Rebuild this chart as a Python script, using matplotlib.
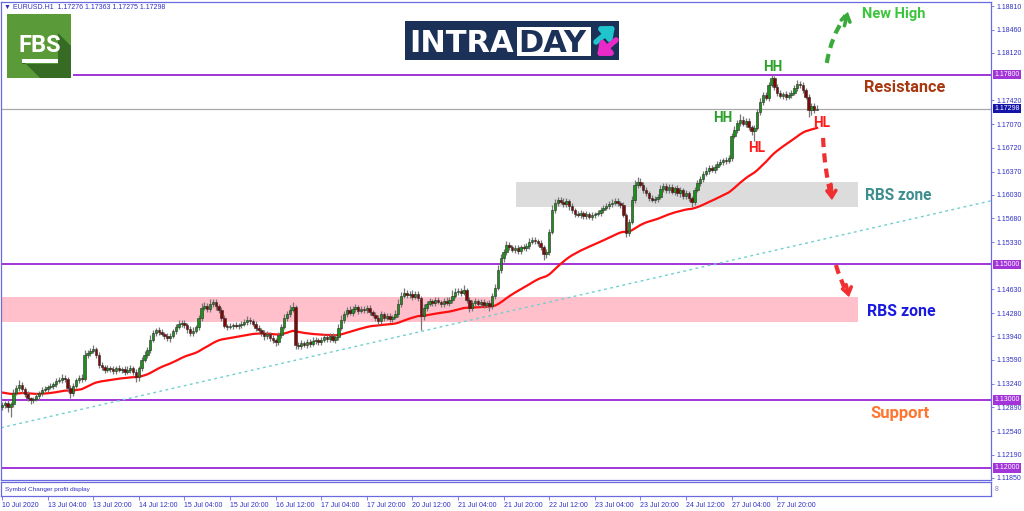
import numpy as np
import pandas as pd
import matplotlib
matplotlib.use("Agg")
import matplotlib.pyplot as plt
from matplotlib.patches import Rectangle, FancyArrowPatch, Polygon
from matplotlib.transforms import blended_transform_factory

# ---------------- data (EURUSD H1) ----------------
CLOSES = [
    1.12926, 1.12956, 1.12897, 1.12941, 1.13103, 1.13177, 1.13221, 1.13162, 1.13089, 1.13030, 1.13000, 1.13015, 1.13059, 1.13103, 1.13147, 1.13162,
    1.13192, 1.13207, 1.13236, 1.13280, 1.13295, 1.13325, 1.13310, 1.13177, 1.13103, 1.13207, 1.13295, 1.13325, 1.13310, 1.13664, 1.13693, 1.13723,
    1.13752, 1.13664, 1.13516, 1.13487, 1.13443, 1.13472, 1.13457, 1.13428, 1.13472, 1.13443, 1.13457, 1.13413, 1.13443, 1.13472, 1.13413, 1.13339,
    1.13472, 1.13590, 1.13664, 1.13738, 1.13885, 1.13988, 1.14033, 1.14003, 1.13974, 1.13944, 1.13915, 1.13944, 1.14018, 1.14077, 1.14121, 1.14136,
    1.14106, 1.14047, 1.13988, 1.14018, 1.14077, 1.14210, 1.14357, 1.14387, 1.14343, 1.14416, 1.14446, 1.14387, 1.14328, 1.14210, 1.14092, 1.14077,
    1.14092, 1.14106, 1.14092, 1.14106, 1.14121, 1.14151, 1.14180, 1.14165, 1.14121, 1.14062, 1.14033, 1.13988, 1.13944, 1.13974, 1.13915, 1.13885,
    1.13856, 1.13959, 1.14077, 1.14210, 1.14269, 1.14328, 1.14372, 1.13811, 1.13797, 1.13841, 1.13811, 1.13856, 1.13826, 1.13870, 1.13885, 1.13856,
    1.13885, 1.13929, 1.13900, 1.13944, 1.13885, 1.13929, 1.14062, 1.14180, 1.14269, 1.14328, 1.14284, 1.14343, 1.14372, 1.14313, 1.14343, 1.14328,
    1.14357, 1.14298, 1.14254, 1.14210, 1.14165, 1.14269, 1.14210, 1.14239, 1.14195, 1.14225, 1.14269, 1.14416, 1.14534, 1.14578, 1.14549, 1.14564,
    1.14519, 1.14564, 1.14505, 1.14239, 1.14357, 1.14416, 1.14461, 1.14431, 1.14475, 1.14446, 1.14416, 1.14461, 1.14431, 1.14475, 1.14534, 1.14593,
    1.14608, 1.14578, 1.14623, 1.14475, 1.14357, 1.14431, 1.14461, 1.14416, 1.14446, 1.14401, 1.14431, 1.14387, 1.14534, 1.14652, 1.14918, 1.15095,
    1.15183, 1.15286, 1.15257, 1.15212, 1.15242, 1.15198, 1.15257, 1.15242, 1.15271, 1.15330, 1.15360, 1.15345, 1.15315, 1.15257, 1.15154, 1.15183,
    1.15478, 1.15802, 1.15906, 1.15950, 1.15920, 1.15891, 1.15935, 1.15861, 1.15802, 1.15743, 1.15728, 1.15758, 1.15713, 1.15743, 1.15699, 1.15728,
    1.15743, 1.15758, 1.15802, 1.15832, 1.15861, 1.15891, 1.15906, 1.15935, 1.15906, 1.15876, 1.15728, 1.15463, 1.15625, 1.15950, 1.16171, 1.16215,
    1.16171, 1.16098, 1.16054, 1.15980, 1.15950, 1.15965, 1.15994, 1.16112, 1.16157, 1.16098, 1.16142, 1.16068, 1.16127, 1.16054, 1.16098, 1.16009,
    1.16054, 1.15980, 1.15920, 1.16098, 1.16201, 1.16260, 1.16334, 1.16378, 1.16422, 1.16393, 1.16437, 1.16481, 1.16511, 1.16540, 1.16525, 1.16570,
    1.16894, 1.16983, 1.17086, 1.17130, 1.17071, 1.17115, 1.17027, 1.16968, 1.17012, 1.17248, 1.17396, 1.17499, 1.17455, 1.17647, 1.17750, 1.17617,
    1.17529, 1.17485, 1.17514, 1.17470, 1.17499, 1.17529, 1.17603, 1.17662, 1.17647, 1.17573, 1.17470, 1.17278, 1.17337, 1.17276, 1.17298,
]
FIRST_OPEN = 1.12900
# wick lengths in pips above max(open, close) / below min(open, close)
UP_WICK = [
    4, 3, 5, 3, 6, 5, 7, 4, 3, 4, 2, 3, 4, 3, 5, 4,
    3, 4, 3, 5, 4, 6, 5, 3, 4, 5, 3, 4, 6, 8, 5, 4,
    6, 3, 5, 4, 3, 4, 3, 5, 3, 4, 3, 5, 6, 4, 3, 5,
    3, 4, 6, 5, 7, 4, 3, 5, 4, 3, 5, 4, 3, 5, 6, 4,
    5, 3, 4, 6, 3, 5, 7, 6, 4, 8, 5, 4, 3, 5, 4, 3,
    4, 3, 5, 3, 4, 5, 6, 4, 3, 5, 4, 3, 4, 5, 3, 4,
    3, 5, 4, 6, 5, 7, 8, 3, 4, 5, 3, 4, 5, 6, 4, 3,
    4, 5, 3, 4, 5, 3, 6, 7, 5, 4, 6, 5, 4, 3, 5, 4,
    5, 4, 3, 4, 5, 4, 3, 5, 4, 3, 6, 8, 6, 7, 5, 4,
    6, 5, 4, 3, 6, 4, 5, 3, 4, 5, 3, 4, 6, 5, 9, 6,
    5, 4, 7, 3, 4, 5, 4, 3, 5, 4, 3, 4, 5, 6, 7, 6,
    5, 6, 4, 3, 5, 4, 3, 5, 4, 6, 5, 4, 3, 4, 3, 5,
    4, 7, 6, 5, 4, 6, 5, 3, 4, 3, 5, 4, 3, 4, 3, 4,
    3, 4, 5, 4, 5, 4, 6, 5, 4, 3, 4, 3, 5, 6, 8, 7,
    6, 5, 4, 3, 4, 5, 4, 6, 5, 4, 5, 4, 3, 5, 4, 3,
    4, 3, 3, 5, 4, 5, 4, 6, 4, 5, 4, 5, 4, 3, 5, 4,
    5, 6, 5, 9, 6, 5, 4, 3, 4, 5, 6, 4, 5, 4, 4, 3,
    4, 5, 3, 4, 5, 4, 5, 6, 5, 4, 3, 4, 5, 4, 6,
]
LOW_WICK = [
    5, 4, 8, 15, 4, 3, 5, 6, 4, 5, 6, 4, 3, 5, 4, 3,
    4, 3, 5, 4, 3, 4, 5, 6, 7, 4, 3, 5, 4, 3, 4, 5,
    3, 4, 5, 4, 5, 3, 4, 5, 4, 3, 5, 4, 3, 4, 5, 8,
    6, 4, 3, 5, 4, 3, 5, 4, 3, 5, 4, 6, 3, 4, 3, 5,
    4, 6, 5, 4, 3, 4, 5, 3, 4, 5, 4, 6, 5, 4, 3, 4,
    3, 4, 3, 5, 4, 3, 4, 5, 3, 4, 5, 4, 6, 4, 5, 4,
    6, 5, 4, 3, 5, 4, 3, 6, 5, 4, 3, 5, 4, 3, 4, 5,
    4, 3, 5, 4, 3, 5, 4, 3, 5, 4, 3, 4, 5, 4, 3, 5,
    4, 5, 3, 4, 6, 5, 4, 3, 5, 4, 3, 4, 5, 3, 4, 5,
    4, 3, 5, 20, 6, 4, 3, 5, 4, 3, 5, 4, 3, 4, 5, 3,
    4, 5, 3, 4, 6, 5, 4, 3, 5, 4, 3, 7, 4, 5, 3, 4,
    6, 4, 5, 3, 4, 5, 4, 3, 5, 4, 3, 5, 4, 5, 9, 6,
    4, 3, 5, 4, 3, 5, 4, 6, 4, 5, 3, 4, 5, 4, 3, 5,
    4, 3, 5, 4, 3, 4, 5, 3, 4, 5, 3, 6, 4, 3, 5, 4,
    3, 4, 5, 4, 3, 4, 5, 3, 4, 5, 4, 3, 5, 4, 6, 5,
    4, 5, 8, 4, 3, 4, 5, 3, 4, 3, 5, 4, 3, 5, 4, 3,
    4, 3, 5, 4, 3, 4, 5, 6, 15, 3, 4, 5, 3, 4, 3, 5,
    4, 3, 5, 4, 3, 4, 3, 4, 5, 4, 3, 10, 8, 4, 0,
]
MA_SEED = 1.13118      # moving-average value at the first bar
MA_SPAN = 50

X_LABELS = ["10 Jul 2020", "13 Jul 04:00", "13 Jul 20:00", "14 Jul 12:00", "15 Jul 04:00",
            "15 Jul 20:00", "16 Jul 12:00", "17 Jul 04:00", "17 Jul 20:00", "20 Jul 12:00",
            "21 Jul 04:00", "21 Jul 20:00", "22 Jul 12:00", "23 Jul 04:00", "23 Jul 20:00",
            "24 Jul 12:00", "27 Jul 04:00", "27 Jul 20:00"]
BARS_PER_LABEL = 16
Y_TICKS = [1.18810, 1.18460, 1.18120, 1.17420, 1.17070, 1.16720, 1.16370, 1.16030,
           1.15680, 1.15330, 1.14630, 1.14280, 1.13940, 1.13590, 1.13240, 1.12890,
           1.12540, 1.12190, 1.11850]
RESISTANCE = 1.17800
LEVEL_1500 = 1.15000
SUPPORT = 1.13000
LEVEL_1200 = 1.12000
LAST_PRICE = 1.17298
HEADER = "\u25bc EURUSD.H1  1.17276 1.17363 1.17275 1.17298"
RESIST_START_BAR = 25
RBS_GRAY = (180.4, 300.4, 1.15848, 1.16220)   # bar from, bar to, low, high
RBS_PINK = (-0.1, 300.4, 1.14146, 1.14524)
TREND_A = (0, 1.12594)
TREND_B = (286, 1.15350)
Y_RANGE = (1.11820, 1.18870)

# ---------------- figure ----------------
plt.rcParams["font.family"] = ["Liberation Sans", "DejaVu Sans"]
W, H = 1024, 511
fig = plt.figure(figsize=(W / 100, H / 100), dpi=100)
fig.patch.set_facecolor("white")

FRAME = "#6a6ae0"
AXTXT = "#2f2fc4"
PURPLE = "#a234d8"


def fa(l, t, r, b):
    return [l / W, 1 - b / H, (r - l) / W, (b - t) / H]


ax = fig.add_axes(fa(1, 2, 991, 480))
sub = fig.add_axes(fa(1, 482, 991, 496))

c = np.array(CLOSES)
n = len(c)
o = np.r_[FIRST_OPEN, c[:-1]]
hi = np.maximum(o, c) + np.array(UP_WICK) * 1e-4
lo = np.minimum(o, c) - np.array(LOW_WICK) * 1e-4
idx = np.arange(n)

px_per_bar = 2.85
x0 = -1 / px_per_bar
x1 = 989 / px_per_bar
ax.set_xlim(x0, x1)
ax.set_ylim(*Y_RANGE)

# zones
for (xa, xb, ya, yb), col in [(RBS_GRAY, "#dcdcdc"), (RBS_PINK, "#ffc0cb")]:
    ax.add_patch(Rectangle((xa, ya), xb - xa, yb - ya, facecolor=col, edgecolor="none", zorder=0.5))

# horizontal levels
for lvl in [LEVEL_1500, SUPPORT, LEVEL_1200]:
    ax.axhline(lvl, color=PURPLE, lw=1.4, zorder=1)
ax.hlines(RESISTANCE, RESIST_START_BAR, x1, color=PURPLE, lw=1.4, zorder=1)
ax.axhline(LAST_PRICE, color="#a8a8a8", lw=0.9, zorder=1)

# trend line
ax.axline(TREND_A, TREND_B, color="#6fcfcf", lw=1.0, ls=(0, (2, 2.5)), zorder=1.2)

# moving average
ma = pd.Series(np.r_[MA_SEED, c]).ewm(span=MA_SPAN, adjust=False).mean().values[1:]
ax.plot(idx, ma, color="#ff1010", lw=1.6, zorder=2)

# candles
ax.vlines(idx, lo, hi, color="#777777", lw=0.9, zorder=3)
bull = c >= o
body = np.maximum(np.abs(c - o), 0.00003)
ax.bar(idx[bull], body[bull], bottom=o[bull], width=0.85, color="#189318",
       edgecolor="#2a2a2a", linewidth=0.4, zorder=4)
ax.bar(idx[~bull], body[~bull], bottom=c[~bull], width=0.85, color="#820707",
       edgecolor="#2a2a2a", linewidth=0.4, zorder=4)

# axis styling
for a in (ax, sub):
    for s in a.spines.values():
        s.set_color(FRAME)
        s.set_linewidth(0.9)
ax.set_xticks([])
ax.yaxis.tick_right()
ax.set_yticks(Y_TICKS)
ax.set_yticklabels([f"{v:.5f}" for v in Y_TICKS])
ax.tick_params(axis="y", direction="out", length=2.5, width=0.6, colors=FRAME,
               labelcolor=AXTXT, labelsize=5, pad=1.5)

blend = blended_transform_factory(ax.transAxes, ax.transData)
for lvl, fc in [(RESISTANCE, PURPLE), (LEVEL_1500, PURPLE), (SUPPORT, PURPLE),
                (LEVEL_1200, PURPLE), (LAST_PRICE, "#1414a8")]:
    ax.text(1.0035, lvl, f"{lvl:.5f}", transform=blend, fontsize=5, color="white",
            va="center", ha="left", zorder=10, clip_on=False,
            bbox=dict(boxstyle="square,pad=0.18", fc=fc, ec="none"))

# sub window with time axis
sub.set_xlim(x0, x1)
sub.set_ylim(0, 1)
sub.set_yticks([])
ticks = [i * BARS_PER_LABEL for i in range(len(X_LABELS))]
sub.set_xticks(ticks)
sub.set_xticklabels(X_LABELS)
sub.tick_params(axis="x", direction="out", length=3, width=0.6, colors=FRAME,
                labelcolor=AXTXT, labelsize=5, pad=1.5)
for lab_ in sub.get_xticklabels():
    lab_.set_horizontalalignment("left")
sub.text(0.004, 0.5, "Symbol Changer profit display", transform=sub.transAxes,
         fontsize=4.6, color=AXTXT, va="center", ha="left")
sub.text(1.004, 0.45, "8", transform=sub.transAxes, fontsize=5, color="#7a7ad0",
         va="center", ha="left", clip_on=False)

fig.text(4 / W, 1 - 7.5 / H, HEADER, fontsize=5, color=AXTXT, va="center", ha="left")

# annotations
RB = ["Roboto", "DejaVu Sans"]


def lab(x, y, s, col, size):
    ax.text(x, y, s, color=col, fontsize=size, fontweight="bold", family=RB,
            ha="left", va="baseline", zorder=12)


lab(301.8, 1.18630, "New High", "#3cc43c", 10.5)
lab(302.5, 1.17547, "Resistance", "#a8380f", 11.8)
lab(302.8, 1.15950, "RBS zone", "#3f8e8e", 11.2)
lab(303.4, 1.14239, "RBS zone", "#1b1be0", 11.4)
lab(304.6, 1.12730, "Support", "#ff7530", 12)
lab(267.1, 1.17857, "HH", "#2aa02a", 9.8)
lab(249.6, 1.17105, "HH", "#2aa02a", 9.8)
lab(261.9, 1.16662, "HL", "#ff1a1a", 9.8)
lab(284.7, 1.17022, "HL", "#ff1a1a", 9.8)


def dashed_arrow(p0, p1, col, rad, head_from):
    ax.add_patch(FancyArrowPatch(p0, p1, arrowstyle="-", connectionstyle=f"arc3,rad={rad}",
                                 color=col, lw=3.0, linestyle=(0, (2.2, 1.5)), zorder=11,
                                 shrinkA=0, shrinkB=3, capstyle="butt"))
    ax.add_patch(FancyArrowPatch(head_from, p1,
                                 arrowstyle="->,head_length=4.5,head_width=3.2",
                                 color=col, lw=2.6, zorder=11, shrinkA=0, shrinkB=0,
                                 joinstyle="miter"))


green = "#3aaa3a"
red = "#f03030"
dashed_arrow((289.4, 1.17971), (296.8, 1.18723), green, -0.12, (295.6, 1.18520))
dashed_arrow((288.1, 1.16865), (291.2, 1.15950), red, 0.05, (290.9, 1.16180))
dashed_arrow((292.6, 1.14991), (297.2, 1.14519), red, 0.05, (296.2, 1.14700))

# ---------------- logos (pixel overlay) ----------------
ov = fig.add_axes([0, 0, 1, 1], zorder=20)
ov.set_xlim(0, W)
ov.set_ylim(H, 0)
ov.axis("off")
ov.patch.set_alpha(0)

ov.add_patch(Rectangle((7, 14), 64, 64, fc="#5a9a38", ec="none"))
ov.add_patch(Polygon([(58, 33), (71, 46), (71, 78), (40, 78), (22, 60), (22, 64), (58, 64)],
                     closed=True, fc="#356b22", ec="none"))
ov.text(40, 52, "FBS", color="white", fontsize=17, fontweight="bold", family=RB,
        ha="center", va="baseline")
ov.add_patch(Rectangle((22, 59.5), 36, 3.2, fc="white", ec="none"))

ov.add_patch(Rectangle((405, 21), 214, 39, fc="#1b3157", ec="none"))
ov.add_patch(Rectangle((517, 27), 74, 29, fc="white", ec="none"))
ov.text(409, 52, "INTRA", color="white", fontsize=22, fontweight="bold",
        family=["DejaVu Sans"], ha="left", va="baseline")
ov.text(518, 52, "DAY", color="#1b3157", fontsize=22, fontweight="bold",
        family=["DejaVu Sans"], ha="left", va="baseline")
ov.add_patch(FancyArrowPatch((596, 42), (615, 26), arrowstyle="-|>,head_length=6,head_width=5",
                             color="#20c4cc", lw=4, shrinkA=0, shrinkB=0))
ov.add_patch(FancyArrowPatch((616, 40), (597, 56), arrowstyle="-|>,head_length=6,head_width=5",
                             color="#e82bc8", lw=4, shrinkA=0, shrinkB=0))

fig.savefig("out.png", dpi=100, facecolor="white")
